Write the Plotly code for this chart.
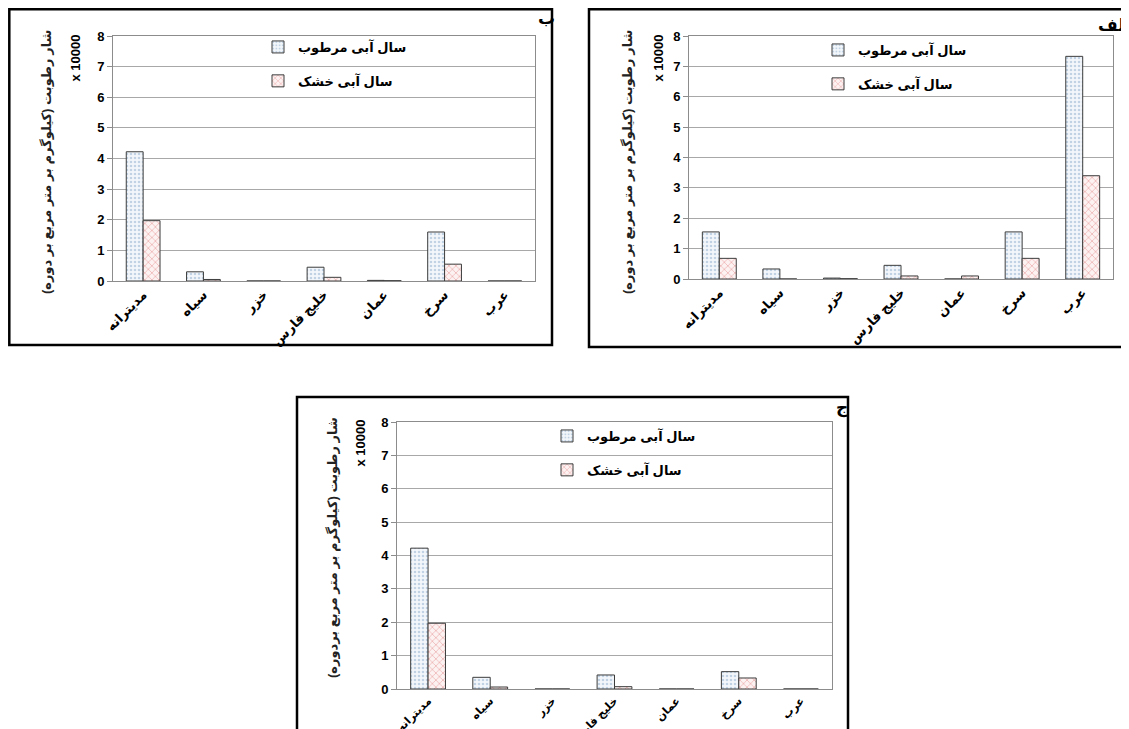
import plotly.graph_objects as go

W, H = 1129, 729
OFF = 8  # page body margin offset of the figure inside the window

categories = ["مدیترانه", "سیاه", "خزر", "خلیج فارس", "عمان", "سرخ", "عرب"]
series_names = ["سال آبی مرطوب", "سال آبی خشک"]

# panel ب (top-left)
wet_b = [4.22, 0.30, 0.0, 0.45, 0.02, 1.60, 0.0]
dry_b = [1.97, 0.05, 0.0, 0.12, 0.01, 0.55, 0.0]
# panel الف (top-right)
wet_alef = [1.55, 0.33, 0.03, 0.45, 0.0, 1.55, 7.33]
dry_alef = [0.68, 0.0, 0.01, 0.10, 0.10, 0.68, 3.40]
# panel ج (bottom)
wet_j = [4.22, 0.35, 0.0, 0.42, 0.0, 0.52, 0.0]
dry_j = [1.97, 0.06, 0.0, 0.07, 0.0, 0.33, 0.0]

y_ticks = [0, 1, 2, 3, 4, 5, 6, 7, 8]
panel_labels = ["ب", "الف", "ج"]
ytitle_top = "شار رطوبت (کیلوگرم بر متر مربع بر دوره)"
ytitle_bottom = "شار رطوبت (کیلوگرم بر متر مربع بردوره)"
scale_label = "x 10000"

FONT = "Arial, DejaVu Sans, sans-serif"


def px(x):
    return (x - OFF) / W


def py(y):
    return 1 - (y - OFF) / H


wet_marker = dict(color="white", line=dict(color="#3c3c3c", width=1),
                  pattern=dict(shape=".", fgcolor="#8eaecb", bgcolor="#f3f7fb",
                               size=4, solidity=0.35))
dry_marker = dict(color="white", line=dict(color="#3c3c3c", width=1),
                  pattern=dict(shape="x", fgcolor="#e07b7b", bgcolor="#fdf2f2",
                               size=5, solidity=0.3))

panels = [
    # wet, dry, axis suffix, legend id, plot px box (x0, x1, ytop, ybottom), x tick size
    (wet_b, dry_b, "", "legend", (113, 535, 36, 281), 13),
    (wet_alef, dry_alef, "2", "legend2", (689, 1113, 36, 279), 13),
    (wet_j, dry_j, "3", "legend3", (397, 832, 422, 689), 11),
]

fig = go.Figure()
layout = dict(
    width=W, height=H,
    margin=dict(l=0, r=0, t=0, b=0, autoexpand=False),
    paper_bgcolor="white", plot_bgcolor="white",
    barmode="group", bargap=0.44, bargroupgap=0.0,
    font=dict(family=FONT, color="#000000"),
)

for wet, dry, sfx, leg, (x0, x1, yt, yb), tsize in panels:
    xa = "x" + sfx
    ya = "y" + sfx
    fig.add_trace(go.Bar(x=categories, y=wet, name=series_names[0], marker=wet_marker,
                         xaxis=xa, yaxis=ya, legend=leg, legendgroup=leg + "w"))
    fig.add_trace(go.Bar(x=categories, y=dry, name=series_names[1], marker=dry_marker,
                         xaxis=xa, yaxis=ya, legend=leg, legendgroup=leg + "d"))
    layout["xaxis" + sfx] = dict(
        domain=[px(x0), px(x1)], anchor=ya, showline=True, linecolor="#8c8c8c",
        linewidth=1, mirror=True, showgrid=False, ticks="", tickangle=-45,
        automargin=False,
        tickfont=dict(size=tsize, family=FONT, weight="bold"),
    )
    layout["yaxis" + sfx] = dict(
        domain=[py(yb), py(yt)], anchor=xa, range=[0, 8], tickvals=y_ticks,
        showline=True, linecolor="#8c8c8c", linewidth=1, mirror=True,
        showgrid=True, gridcolor="#a8a8a8", gridwidth=1, zeroline=False,
        ticks="outside", ticklen=5, tickcolor="#8c8c8c", automargin=False,
        tickfont=dict(size=13, family=FONT, weight="bold"),
    )

legend_pos = {"legend": (258, 32), "legend2": (818, 35), "legend3": (547, 421)}
for leg, (lx, ly) in legend_pos.items():
    layout[leg] = dict(x=px(lx), y=py(ly), xanchor="left", yanchor="top",
                       bgcolor="rgba(255,255,255,0)", tracegroupgap=14,
                       itemwidth=30,
                       font=dict(size=13, family=FONT, weight="bold"))

fig.update_layout(**layout)

# outer panel frames
frames = [(9.3, 9.3, 552, 345), (589, 9.3, 1145, 347), (297, 397, 848, 745)]
for (a, b, c, d) in frames:
    fig.add_shape(type="rect", xref="paper", yref="paper",
                  x0=px(a), x1=px(c), y0=py(d), y1=py(b),
                  line=dict(color="black", width=2.5), fillcolor="rgba(0,0,0,0)")

# y titles and scale labels
ytitles = [(47, 162, ytitle_top), (628, 162, ytitle_top), (333, 548, ytitle_bottom)]
for (x, y, t) in ytitles:
    fig.add_annotation(x=px(x), y=py(y), xref="paper", yref="paper", text=t,
                       textangle=-90, showarrow=False, xanchor="center", yanchor="middle",
                       font=dict(size=13, family=FONT, weight="bold", color="#222"))
scales = [(75, 33), (658, 33), (360, 418)]
for (x, y) in scales:
    fig.add_annotation(x=px(x), y=py(y), xref="paper", yref="paper", text=scale_label,
                       textangle=-90, showarrow=False, xanchor="center", yanchor="top",
                       font=dict(size=13, family=FONT, weight="bold", color="#000"))

# panel letters
letters = [(546, 19, panel_labels[0]), (1114, 25, panel_labels[1]), (842, 408, panel_labels[2])]
for (x, y, t) in letters:
    fig.add_annotation(x=px(x), y=py(y), xref="paper", yref="paper", text=t,
                       showarrow=False, xanchor="center", yanchor="middle",
                       font=dict(size=17, family=FONT, weight="bold"))

fig.write_html("out.html")
